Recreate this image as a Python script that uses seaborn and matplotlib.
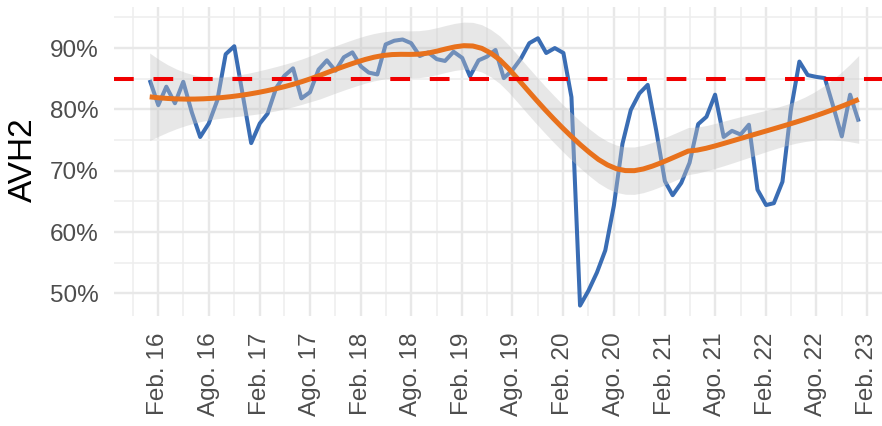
import numpy as np
import pandas as pd
import matplotlib
matplotlib.use("Agg")
import matplotlib.pyplot as plt
import matplotlib.dates as mdates
import seaborn as sns

# Monthly AVH2 share (%), January 2016 - January 2023
months = pd.date_range("2016-01-01", "2023-01-01", freq="MS")
avh2 = [
    84.8, 80.7, 83.7, 81.0, 84.5, 79.5, 75.5, 77.7, 81.5, 89.0, 90.3, 82.5,
    74.5, 77.7, 79.3, 83.5, 85.5, 86.7, 81.8, 82.8, 86.5, 88.0, 86.3, 88.5,
    89.3, 87.0, 86.0, 85.7, 90.6, 91.2, 91.4, 90.8, 88.7, 89.3, 88.2, 87.9,
    89.4, 88.4, 85.4, 88.0, 88.6, 89.7, 85.1, 86.4, 88.3, 90.8, 91.6, 89.2,
    90.0, 89.2, 82.0, 48.0, 50.4, 53.4, 57.0, 64.3, 74.4, 79.9, 82.6, 84.0,
    76.5, 68.3, 66.0, 68.0, 71.3, 77.6, 78.8, 82.4, 75.5, 76.5, 75.9, 77.5,
    66.9, 64.4, 64.7, 68.2, 79.8, 87.8, 85.6, 85.3, 85.1, 80.5, 75.6, 82.4,
    78.0,
]
threshold = 85

tick_dates = pd.date_range("2016-02-01", "2023-02-01", freq="6MS")
tick_labels = ["Feb. 16", "Ago. 16", "Feb. 17", "Ago. 17", "Feb. 18", "Ago. 18",
               "Feb. 19", "Ago. 19", "Feb. 20", "Ago. 20", "Feb. 21", "Ago. 21",
               "Feb. 22", "Ago. 22", "Feb. 23"]
minor_dates = pd.date_range("2015-11-01", "2023-05-01", freq="6MS")

y_major = [50, 60, 70, 80, 90]
y_minor = [55, 65, 75, 85, 95]

df = pd.DataFrame({"mes": months, "avh2": avh2})


def loess(x, y, xout, span=0.5):
    """Local quadratic regression with tricube weights, plus pointwise 95% band."""
    n = len(x)
    q = int(np.floor(n * span))

    def row(x0):
        d = np.abs(x - x0)
        h = np.sort(d)[q - 1]
        u = np.clip(d / h, 0, 1)
        w = (1 - u ** 3) ** 3
        X = np.column_stack([np.ones(n), x - x0, (x - x0) ** 2])
        XtW = X.T * w
        return np.linalg.solve(XtW @ X, XtW)[0]

    L = np.array([row(v) for v in x])
    Lg = np.array([row(v) for v in xout])
    resid = y - L @ y
    M = (np.eye(n) - L).T @ (np.eye(n) - L)
    d1 = np.trace(M)
    d2 = np.trace(M @ M)
    s = np.sqrt(np.sum(resid ** 2) / d1)
    dof = d1 ** 2 / d2
    z = 1.959964
    t = z + (z ** 3 + z) / (4 * dof) + (5 * z ** 5 + 16 * z ** 3 + 3 * z) / (96 * dof ** 2)
    fit = Lg @ y
    se = s * np.sqrt(np.sum(Lg ** 2, axis=1))
    return fit, fit - t * se, fit + t * se


xnum = mdates.date2num(df["mes"]) / 365.25
xgrid = np.linspace(xnum.min(), xnum.max(), 80)
fit, lo, hi = loess(xnum, np.asarray(avh2, dtype=float), xgrid, span=0.5)
smooth = pd.DataFrame({"mes": mdates.num2date(xgrid * 365.25), "fit": fit, "lo": lo, "hi": hi})

sns.set_theme(style="whitegrid")
plt.rcParams["font.family"] = ["Liberation Sans", "DejaVu Sans"]

W, H = 882, 426
fig = plt.figure(figsize=(W / 100, H / 100), dpi=100)

# Panel: 5% padding on the date range, right side runs past the figure edge
t0 = mdates.date2num(months[0])
t1 = mdates.date2num(months[-1])
pad = 0.05 * (t1 - t0)
feb16 = mdates.date2num(pd.Timestamp("2016-02-01"))
feb23 = mdates.date2num(pd.Timestamp("2023-02-01"))
px_per_day = (867.3 - 158.3) / (feb23 - feb16)
left_px = 158.3 - (feb16 - (t0 - pad)) * px_per_day
width_px = (t1 - t0 + 2 * pad) * px_per_day
top_px, bottom_px = 7, 316
ax = fig.add_axes([left_px / W, 1 - bottom_px / H, width_px / W, (bottom_px - top_px) / H])

sns.lineplot(data=df, x="mes", y="avh2", ax=ax, color="#3a6db4", lw=2.9,
             solid_capstyle="butt", solid_joinstyle="round", zorder=3)
ax.fill_between(smooth["mes"], smooth["lo"], smooth["hi"], color="#c4c4c4",
                alpha=0.4, lw=0, zorder=4)
sns.lineplot(data=smooth, x="mes", y="fit", ax=ax, color="#e8711c", lw=3.6,
             solid_capstyle="butt", zorder=5)
ax.axhline(threshold, color="#f00000", lw=2.9, ls=(0, (4.9, 4.9)),
           dash_capstyle="butt", zorder=6)

ax.set_xlim(t0 - pad, t1 + pad)
ax.set_ylim(46.3, 96.7)
ax.set_xticks(tick_dates)
ax.set_xticklabels(tick_labels, rotation=90)
ax.set_xticks(minor_dates, minor=True)
ax.set_yticks(y_major)
ax.set_yticklabels([f"{v}%" for v in y_major])
ax.set_yticks(y_minor, minor=True)
ax.grid(which="major", color="#e8e8e8", lw=1.7)
ax.grid(which="minor", color="#eeeeee", lw=1.1)
ax.tick_params(axis="both", which="both", length=0, labelsize=17.5, labelcolor="#4d4d4d")
ax.tick_params(axis="x", pad=12)
ax.tick_params(axis="y", pad=11)
for s in ax.spines.values():
    s.set_visible(False)
ax.set_xlabel("")
ax.set_ylabel("AVH2", fontsize=24, color="black", va="center")
ax.yaxis.set_label_coords(23 / W, 1 - 160 / H, transform=fig.transFigure)

fig.savefig("out.png", dpi=100)
